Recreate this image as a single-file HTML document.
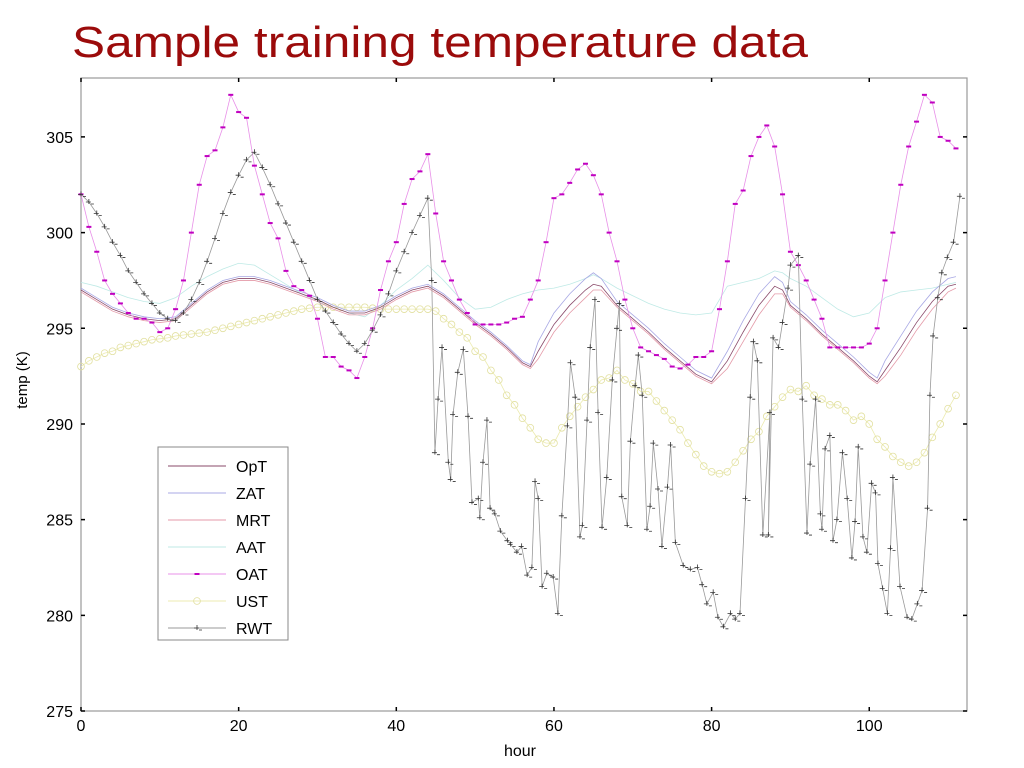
<!DOCTYPE html>
<html><head><meta charset="utf-8"><style>
html,body{margin:0;padding:0;background:#fff;width:1024px;height:768px;overflow:hidden}
svg{display:block;font-family:"Liberation Sans",sans-serif}
</style></head><body>
<svg id="chart" width="1024" height="768" viewBox="0 0 1024 768" xmlns="http://www.w3.org/2000/svg">
<text x="72" y="57" font-size="44" fill="#9b0b0b" textLength="736" lengthAdjust="spacingAndGlyphs">Sample training temperature data</text>
<g id="plot"></g>
<text x="520" y="756" font-size="16" text-anchor="middle">hour</text>
<text transform="translate(27,380) rotate(-90)" font-size="15" text-anchor="middle">temp (K)</text>
</svg>
<script>
const xTicks=[0,20,40,60,80,100];
const yTicks=[275,280,285,290,295,300,305];
const oatValues=[302,300.3,299,297.5,296.8,296.3,295.8,295.5,295.5,295.3,294.8,295,296,297.5,300,302.5,304,304.3,305.5,307.2,306.3,306,303.5,302,300.5,299.7,298,297.2,297,296.7,295.5,293.5,293.5,293,292.8,292.4,293.5,295,297,298.5,299.5,301.5,302.8,303.2,304.1,301,298.5,297.5,296.5,295.8,295.2,295.2,295.2,295.2,295.3,295.5,295.6,296.5,297.5,299.5,301.8,302,302.6,303.3,303.6,303,302,300,298.5,296.5,295,294,293.8,293.6,293.4,293,292.9,293.1,293.5,293.5,293.8,296,298.5,301.5,302.2,304,305,305.6,304.5,302,299,298.3,297.5,296.5,295.5,294,294,294,294,294,294.2,295,297.5,300,302.5,304.5,305.8,307.2,306.8,305,304.8,304.4];
const oatHours=oatValues.map((v,i)=>i);
const rwtHours=[0,1,2,3,4,5,6,7,8,9,10,11,12,13,14,15,16,17,18,19,20,21,22,23,24,25,26,27,28,29,30,31,32,33,34,35,36,37,38,39,40,41,42,43,44,44.5,44.9,45.3,45.8,46.6,46.9,47.2,47.8,48.5,49.1,49.6,50.4,50.6,51.0,51.5,51.9,52.5,53.2,54.1,54.5,55.3,55.9,56.6,57.2,57.6,58.0,58.5,59.1,59.9,60.5,61.0,61.7,62.1,62.7,63.3,63.6,64.2,64.6,65.2,65.6,66.1,66.7,67.4,68.0,68.3,68.6,69.3,69.7,70.3,70.7,71.2,71.8,72.2,72.6,73.2,73.7,74.4,74.8,75.4,76.4,77.3,78.2,78.8,79.4,80.2,80.8,81.5,82.4,83.0,83.6,84.3,84.9,85.3,85.8,86.5,87.4,87.2,87.8,88.5,89.0,89.7,90.0,91.0,91.5,92.1,92.5,93.2,93.8,94.0,94.4,95.0,95.4,95.9,96.6,97.2,97.8,98.2,98.6,99.2,99.7,100.3,100.8,101.1,101.7,102.3,102.7,103.0,103.9,104.8,105.4,106.1,106.7,107.4,107.7,108.1,108.7,109.2,109.9,110.7,111.5];
const rwtValues=[302,301.6,301,300.3,299.5,298.8,298,297.4,296.8,296.3,295.8,295.5,295.4,295.8,296.5,297.4,298.5,299.7,301,302.1,303,303.8,304.2,303.4,302.5,301.5,300.5,299.5,298.5,297.5,296.5,295.9,295.3,294.7,294.2,293.8,294.2,294.9,295.7,296.8,298,299,300,300.9,301.8,297.5,288.5,291.3,294,288,287.1,290.5,292.7,293.9,290.4,285.9,286.1,285.1,288,290.2,285.6,285.3,284.4,283.9,283.7,283.3,283.6,282.1,282.5,287,286.1,281.5,282.2,282,280.1,285.2,289.9,293.2,291.4,284.1,284.7,290.2,294,296.5,290.6,284.6,287.2,292.3,295,296.3,286.2,284.7,289.1,292,293.6,291.5,284.5,285.7,289,286.6,283.6,286.7,288.9,283.8,282.6,282.4,282.5,281.6,280.6,281.2,279.9,279.4,280.1,279.8,280.1,286.1,291.4,294.3,293.3,284.2,290.6,284.2,294.5,294,295.3,297.1,298.3,298.8,291.3,284.3,287.9,291.3,285.3,284.5,288.7,289.4,283.9,285,288.5,286.1,283,284.9,288.8,284.1,283.3,286.9,286.4,282.7,281.4,280.1,283.5,287.2,281.5,279.9,279.8,280.6,281.3,285.6,291.5,294.6,296.6,297.9,298.7,299.5,301.9];
const smoothHours=[0,2,4,6,8,10,12,14,16,18,20,22,24,26,28,30,32,34,36,38,40,42,44,46,48,50,52,54,56,57,58,60,62,64,65,66,68,70,72,74,76,78,80,82,84,86,88,89,90,92,94,96,98,100,101,102,104,106,108,110,111];
const optValues=[297,296.5,296,295.7,295.5,295.4,295.5,296.2,296.9,297.4,297.6,297.6,297.4,297.1,296.8,296.5,296.1,295.8,295.8,296.1,296.6,297,297.2,296.7,296,295.3,294.7,294,293.2,293,293.8,295.2,296.2,297,297.3,297.2,296.2,295.5,294.8,294,293.3,292.6,292.2,293.3,294.8,296.2,297.2,297,296.2,295.5,294.7,294,293.3,292.5,292.2,292.8,294,295.3,296.4,297.2,297.3];
const zatValues=[297.1,296.6,296.1,295.8,295.6,295.5,295.6,296.3,297,297.5,297.7,297.7,297.5,297.2,296.9,296.6,296.2,295.9,295.9,296.2,296.7,297.1,297.3,296.8,296.1,295.4,294.8,294.1,293.3,293.1,294.3,295.8,296.8,297.6,297.9,297.6,296.4,295.7,295,294.2,293.5,292.8,292.4,293.8,295.4,296.8,297.7,297.4,296.4,295.7,294.9,294.2,293.5,292.7,292.4,293.3,294.6,295.9,296.9,297.6,297.7];
const mrtValues=[296.9,296.4,295.9,295.6,295.4,295.3,295.4,296.1,296.8,297.3,297.5,297.5,297.3,297,296.7,296.4,296,295.7,295.7,296,296.5,296.9,297.1,296.6,295.9,295.2,294.6,293.9,293.1,292.9,293.4,294.8,295.8,296.6,297,297,296.1,295.4,294.7,293.9,293.2,292.5,292.1,292.9,294.3,295.7,296.8,296.8,296.1,295.4,294.6,293.9,293.2,292.4,292.1,292.5,293.6,294.9,296,296.9,297.1];
const aatValues=[297.4,297.2,296.9,296.6,296.4,296.3,296.6,297.2,297.7,298.1,298.4,298.3,297.8,297.3,296.8,296.4,296.1,295.8,295.6,296.2,297,297.6,298.3,297.5,296.6,296,296.1,296.5,296.8,296.9,297,297.1,297.3,297.6,297.8,297.6,297.1,296.7,296.3,296,295.8,295.7,295.8,297.2,297.4,297.6,298,297.9,297.6,297.2,296.6,296,295.6,295.8,296.2,296.6,296.9,297,297.1,297.3,297.4];
const ustHours=[0,1,2,3,4,5,6,7,8,9,10,11,12,13,14,15,16,17,18,19,20,21,22,23,24,25,26,27,28,29,30,31,32,33,34,35,36,37,38,39,40,41,42,43,44,45,46,47,48,49,50,51,52,53,54,55,56,57,58,59,60,61,62,63,64,65,66,67,68,69,70,71,72,73,74,75,76,77,78,79,80,81,82,83,84,85,86,87,88,89,90,91,92,93,94,95,96,97,98,99,100,101,102,103,104,105,106,107,108,109,110,111];
const ustValues=[293,293.3,293.5,293.7,293.8,294,294.1,294.2,294.3,294.4,294.45,294.5,294.6,294.65,294.7,294.75,294.8,294.9,295,295.1,295.2,295.3,295.4,295.5,295.6,295.7,295.8,295.9,296,296.05,296.1,296.1,296.1,296.1,296.1,296.1,296.1,296.05,296,296,296,296,296,296,296,295.9,295.5,295.2,294.8,294.5,293.8,293.5,292.8,292.3,291.5,291,290.3,289.8,289.2,289,289,289.8,290.4,290.9,291.4,291.8,292.3,292.4,292.8,292.3,292.1,291.7,291.7,291.2,290.7,290.2,289.7,289,288.4,287.8,287.5,287.4,287.5,288,288.6,289.2,289.6,290.4,290.9,291.4,291.8,291.7,292,291.5,291.3,291,291,290.7,290.2,290.4,290,289.2,288.8,288.3,288,287.8,288,288.5,289.3,290,290.8,291.5];

const X0=81,X1=967,Y0=711,Y1=78,XMAX=112.4,YMIN=275,YMAX=308.08;
const sx=h=>X0+(h/XMAX)*(X1-X0);
const sy=v=>Y0-(v-YMIN)/(YMAX-YMIN)*(Y0-Y1);
const NS='http://www.w3.org/2000/svg';
const plot=document.getElementById('plot');
function mk(tag,attrs,parent){const e=document.createElementNS(NS,tag);for(const k in attrs)e.setAttribute(k,attrs[k]);(parent||plot).appendChild(e);return e;}

const frame=mk('rect',{x:X0,y:Y1,width:X1-X0,height:Y0-Y1,fill:'none',stroke:'#999','stroke-width':1.2});



xTicks.forEach(t=>{
  const x=sx(t);
  const tk=mk('path',{d:`M${x},${Y0}v-4M${x},${Y1}v4`,stroke:'#000','stroke-width':1.5});
  
  
  const lb=mk('text',{x:x,y:Y0+20,'font-size':16,'text-anchor':'middle'});
  lb.textContent=t;
  
  
});
yTicks.forEach(t=>{
  const y=sy(t);
  const tk=mk('path',{d:`M${X0},${y}h4M${X1},${y}h-4`,stroke:'#000','stroke-width':1.5});
  
  
  const lb=mk('text',{x:X0-8,y:y+6,'font-size':16,'text-anchor':'end'});
  lb.textContent=t;
  
  
});

function line(hs,vs,color,name){
  const p=mk('polyline',{points:hs.map((h,i)=>sx(h)+','+sy(vs[i])).join(' '),fill:'none',stroke:color,'stroke-width':0.8});
  
  
  return p;
}
line(smoothHours,aatValues,'#bfeae6','aat-line');
line(ustHours,ustValues,'#ecebb0','ust-line');
ustHours.forEach((h,i)=>{
  const c=mk('circle',{cx:sx(h),cy:sy(ustValues[i]),r:3.4,fill:'none',stroke:'#e2e0a0','stroke-width':0.8});
  
  
});
line(smoothHours,zatValues,'#a8a8e4','zat-line');
line(smoothHours,mrtValues,'#e49aa8','mrt-line');
line(smoothHours,optValues,'#8a4a6a','opt-line');
line(oatHours,oatValues,'#e890e8','oat-line');
oatHours.forEach((h,i)=>{
  const m=mk('rect',{x:sx(h)-2.5,y:sy(oatValues[i])-1,width:5,height:2,fill:'#c000c0'});
  
  
});
line(rwtHours,rwtValues,'#999','rwt-line');
rwtHours.forEach((h,i)=>{
  const x=sx(h),y=sy(rwtValues[i]);
  const m=mk('path',{d:`M${x-3},${y}h5M${x},${y-3}v5M${x+2},${y+2}h3`,stroke:'#333','stroke-width':0.8,fill:'none'});
  
  
});

// legend
const legendNames=['OpT','ZAT','MRT','AAT','OAT','UST','RWT'];
const legendColors=['#8a4a6a','#a8a8e4','#e49aa8','#bfeae6','#e890e8','#ecebb0','#999'];
const lg=mk('g',{});


const lb=mk('rect',{x:158,y:447,width:130,height:193,fill:'#fff',stroke:'#888','stroke-width':1},lg);


legendNames.forEach((n,i)=>{
  const y=466+i*27;
  const g=mk('g',{},lg);
  
  
  mk('line',{x1:168,x2:226,y1:y,y2:y,stroke:legendColors[i],'stroke-width':1},g);
  if(n==='OAT')mk('rect',{x:194.5,y:y-1,width:5,height:2,fill:'#c000c0'},g);
  if(n==='UST')mk('circle',{cx:197,cy:y,r:3.4,fill:'none',stroke:'#e2e0a0','stroke-width':0.8},g);
  if(n==='RWT')mk('path',{d:`M${194},${y}h5M${197},${y-3}v5M${199},${y+2}h3`,stroke:'#333','stroke-width':0.8},g);
  const t=mk('text',{x:236,y:y+6,'font-size':16},g);
  t.textContent=n;
});
</script>
</body></html>
